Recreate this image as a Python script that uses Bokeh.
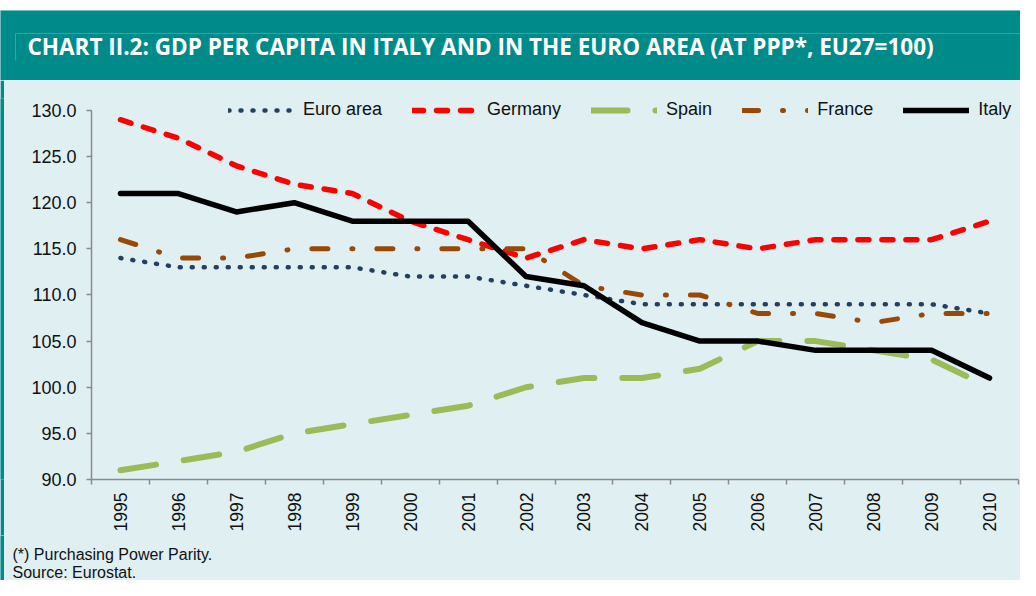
import math
from bokeh.plotting import figure
from bokeh.models import (Range1d, FixedTicker, Label, Legend, LegendItem,
                          PrintfTickFormatter, Spacer)
from bokeh.layouts import column, row
from bokeh.embed import file_html
from bokeh.resources import INLINE

# ---------------- data ----------------
years = list(range(1995, 2011))
euro_area = [114, 113, 113, 113, 113, 112, 112, 111, 110, 109, 109, 109, 109, 109, 109, 108]
germany   = [129, 127, 124, 122, 121, 118, 116, 114, 116, 115, 116, 115, 116, 116, 116, 118]
spain     = [91, 92, 93, 95, 96, 97, 98, 100, 101, 101, 102, 105, 105, 104, 103, 100]
france    = [116, 114, 114, 115, 115, 115, 115, 115, 111, 110, 110, 108, 108, 107, 108, 108]
italy     = [121, 121, 119, 120, 118, 118, 118, 112, 111, 107, 105, 105, 104, 104, 104, 101]
y_ticks = [90, 95, 100, 105, 110, 115, 120, 125, 130]

title_text = "CHART II.2: GDP PER CAPITA IN ITALY AND IN THE EURO AREA (AT PPP*, EU27=100)"
note1 = "(*) Purchasing Power Parity."
note2 = "Source: Eurostat."

TEAL = "#008B8B"
LIGHT = "#DFEFF2"
FONT = "Liberation Sans"
W = 1020

def bare(width, height, color):
    f = figure(width=width, height=height, x_range=Range1d(0, width), y_range=Range1d(0, height),
               output_backend="svg", toolbar_location=None,
               x_axis_location=None, y_axis_location=None, min_border=0)
    f.background_fill_color = color
    f.border_fill_color = color
    f.outline_line_color = None
    f.grid.visible = False
    return f

# ---------------- header (decorative frame lines in pixel units) ----------------
header = bare(W, 70, TEAL)
header.segment(x0=[15, 15], y0=[47, 47], x1=[W, 15], y1=[47, 20],
               line_color="#33A3A3", line_width=1)
header.add_layout(Label(x=27, y=34, x_units="screen", y_units="screen", text=title_text,
                        text_font="Open Sans", text_font_style="bold",
                        text_font_size="22.5px", text_color="white", text_baseline="middle"))

# ---------------- left strips ----------------
strip = bare(4, 455, TEAL)
strip2 = bare(4, 45, TEAL)

# ---------------- main chart ----------------
MW = W - 4
p = figure(width=MW, height=455, x_range=Range1d(1994.5, 2010.5), y_range=Range1d(90, 131.3),
           output_backend="svg", toolbar_location=None,
           min_border_left=87, min_border_right=MW - 1014, min_border_top=18, min_border_bottom=56)
p.background_fill_color = LIGHT
p.border_fill_color = LIGHT
p.outline_line_color = None
p.grid.visible = False

AX = "#8A8A8A"
xax = p.xaxis[0]
xax.ticker = FixedTicker(ticks=years, minor_ticks=[y - 0.5 for y in years] + [years[-1] + 0.5])
xax.major_tick_line_color = None
xax.minor_tick_line_color = AX
xax.minor_tick_line_width = 1.5
xax.minor_tick_out = 5
xax.minor_tick_in = 0
xax.axis_line_color = AX
xax.axis_line_width = 1.5
xax.major_label_orientation = math.pi / 2
xax.major_label_text_font = FONT
xax.major_label_text_font_size = "17.5px"
xax.major_label_text_color = "#111111"
xax.major_label_standoff = 7

yax = p.yaxis[0]
yax.ticker = FixedTicker(ticks=y_ticks)
yax.bounds = (90, 130)
yax.formatter = PrintfTickFormatter(format="%.1f")
yax.major_tick_line_color = AX
yax.major_tick_line_width = 1.5
yax.major_tick_out = 5
yax.major_tick_in = 0
yax.minor_tick_line_color = None
yax.axis_line_color = AX
yax.axis_line_width = 1.5
yax.major_label_text_font = FONT
yax.major_label_text_font_size = "18px"
yax.major_label_text_color = "#111111"
yax.major_label_standoff = 10

r_euro = p.line(years, euro_area, line_color="#243F60", line_width=4.5,
                line_dash="1 11", line_cap="round")
r_ger = p.line(years, germany, line_color="#FF0000", line_width=5.5,
               line_dash="11 13", line_cap="round")
r_spa = p.line(years, spain, line_color="#9BBB59", line_width=6,
               line_dash="36 28", line_cap="round")
r_fra = p.line(years, france, line_color="#984807", line_width=5,
               line_dash="16 24 1 24", line_cap="round")
r_ita = p.line(years, italy, line_color="#000000", line_width=5.5,
               line_cap="round", line_join="round")

legend = Legend(items=[LegendItem(label="Euro area", renderers=[r_euro]),
                       LegendItem(label="Germany", renderers=[r_ger]),
                       LegendItem(label="Spain", renderers=[r_spa]),
                       LegendItem(label="France", renderers=[r_fra]),
                       LegendItem(label="Italy", renderers=[r_ita])],
                orientation="horizontal", location=(137, 359),
                glyph_width=66, glyph_height=20, label_height=20,
                label_standoff=9, spacing=30, padding=0, margin=0,
                border_line_color=None, background_fill_alpha=0,
                label_text_font=FONT, label_text_font_size="18px",
                label_text_color="#111111")
p.add_layout(legend, "center")

# ---------------- footer ----------------
footer = bare(MW, 45, LIGHT)
footer.add_layout(Label(x=8, y=26, x_units="screen", y_units="screen", text=note1,
                        text_font=FONT, text_font_size="16px", text_color="#111111",
                        text_baseline="middle"))
footer.add_layout(Label(x=8, y=8, x_units="screen", y_units="screen", text=note2,
                        text_font=FONT, text_font_size="16px", text_color="#111111",
                        text_baseline="middle"))

layout = column(Spacer(width=W, height=10, styles={"background-color": "white"}), header,
                row(strip, p, spacing=0, styles={"background-color": LIGHT}),
                row(strip2, footer, spacing=0, styles={"background-color": LIGHT}),
                spacing=0, styles={"background-color": LIGHT})

open("out.html", "w").write(file_html(layout, INLINE))
